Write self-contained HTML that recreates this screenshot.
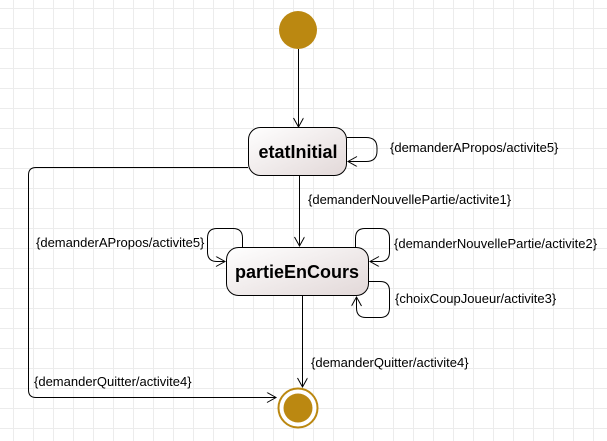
<!DOCTYPE html>
<html><head><style>
html,body{margin:0;padding:0}
body{width:607px;height:441px;background:#fff;background-image:linear-gradient(#ececec 1px,transparent 1px),linear-gradient(90deg,#ececec 1px,transparent 1px);background-size:20px 20px;background-position:13px 8px;overflow:hidden}
</style></head><body>
<svg width="607" height="441" style="position:absolute;left:0;top:0" font-family="Liberation Sans, sans-serif">
<defs>
<linearGradient id="g" x1="0" y1="0" x2="1" y2="1"><stop offset="0" stop-color="#fff"/><stop offset="1" stop-color="#e2d8d8"/></linearGradient>
<marker id="a" markerWidth="12" markerHeight="12" refX="10" refY="5" orient="auto" markerUnits="userSpaceOnUse"><path d="M1,0 L10,5 L1,10" fill="none" stroke="#000" stroke-width="1"/></marker>
</defs>
<g fill="none" stroke="#000" stroke-width="1">
<circle cx="298" cy="30" r="19" fill="#bb8811" stroke="none"/>
<line x1="298.5" y1="49" x2="298.5" y2="127" marker-end="url(#a)"/>
<rect x="248.5" y="127.5" width="98" height="48" rx="12" fill="url(#g)"/>
<path d="M347 137.5 H366 Q377 137.5 377 148 V151 Q377 161.5 366 161.5 H348" marker-end="url(#a)"/>
<line x1="299.5" y1="176" x2="299.5" y2="246" marker-end="url(#a)"/>
<path d="M248 167.5 H36 Q28.5 167.5 28.5 175 V390 Q28.5 397.5 36 397.5 H276" marker-end="url(#a)"/>
<rect x="226.5" y="247.5" width="142" height="48" rx="12" fill="url(#g)"/>
<path d="M242.5 247 V238 Q242.5 228.5 233 228.5 H217 Q207.5 228.5 207.5 238 V252 Q207.5 261.5 217 261.5 H225" marker-end="url(#a)"/>
<path d="M355.5 247 V238 Q355.5 228.5 365 228.5 H380 Q389.5 228.5 389.5 238 V252 Q389.5 261.5 380 261.5 H370" marker-end="url(#a)"/>
<path d="M369 281.5 H380 Q389.5 281.5 389.5 291 V308 Q389.5 317.5 380 317.5 H366 Q356.5 317.5 356.5 308 V297" marker-end="url(#a)"/>
<line x1="302.5" y1="296" x2="302.5" y2="387" marker-end="url(#a)"/>
<circle cx="298" cy="408" r="19.5" stroke="#bb8811" stroke-width="2" fill="#fff"/>
<circle cx="298" cy="408" r="14.5" fill="#bb8811" stroke="none"/>
</g>
<g font-weight="bold" font-size="18" fill="#000" text-anchor="middle">
<text x="298" y="158">etatInitial</text>
<text x="297" y="278">partieEnCours</text>
</g>
<g font-size="13" fill="#000">
<text x="390" y="152">{demanderAPropos/activite5}</text>
<text x="308" y="204">{demanderNouvellePartie/activite1}</text>
<text x="36" y="247">{demanderAPropos/activite5}</text>
<text x="394" y="248">{demanderNouvellePartie/activite2}</text>
<text x="395" y="303">{choixCoupJoueur/activite3}</text>
<text x="311" y="367">{demanderQuitter/activite4}</text>
<text x="34" y="386">{demanderQuitter/activite4}</text>
</g>
</svg>
</body></html>
